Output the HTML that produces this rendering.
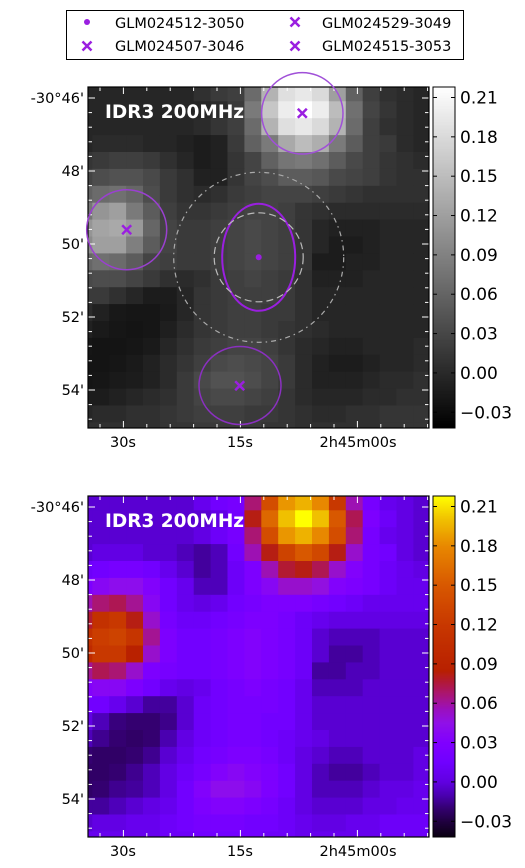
<!DOCTYPE html>
<html><head><meta charset="utf-8"><style>
html,body{margin:0;padding:0;background:#fff;}
svg{display:block;font-family:"DejaVu Sans","Liberation Sans",sans-serif;}
</style></head><body>
<svg id="fig" width="525" height="868" viewBox="0 0 525 868" xmlns="http://www.w3.org/2000/svg">
<g>
<rect x="66.5" y="10.5" width="397" height="49" fill="#fff" stroke="#000" stroke-width="1"/>
<circle cx="87" cy="22" r="3" fill="#9a1fe0"/>
<text x="115" y="28" font-size="14.5">GLM024512-3050</text>
<path d="M82.5,41.5L91.5,50.5M82.5,50.5L91.5,41.5" stroke="#9a1fe0" stroke-width="2.5"/>
<text x="115" y="51" font-size="14.5">GLM024507-3046</text>
<path d="M290.5,17.5L299.5,26.5M290.5,26.5L299.5,17.5" stroke="#9a1fe0" stroke-width="2.5"/>
<text x="322" y="28" font-size="14.5">GLM024529-3049</text>
<path d="M290.5,41.5L299.5,50.5M290.5,50.5L299.5,41.5" stroke="#9a1fe0" stroke-width="2.5"/>
<text x="322" y="51" font-size="14.5">GLM024515-3053</text>
</g>
</svg>
<script>
const gridRows = [
[-0.003,-0.003,-0.003,-0.003,-0.003,-0.003,-0.003,0.007,0.017,0.022,0.067,0.14,0.185,0.195,0.18,0.12,0.057,0.022,0.007,0.002,-0.003],
[-0.003,-0.003,-0.003,-0.003,-0.003,-0.003,-0.003,-0.003,0.002,0.017,0.082,0.16,0.20,0.218,0.20,0.15,0.072,0.027,0.012,0.002,-0.003],
[-0.003,-0.003,-0.003,-0.003,-0.003,-0.003,-0.003,0.002,0.012,0.022,0.067,0.14,0.185,0.195,0.18,0.14,0.067,0.022,0.007,0.002,-0.003],
[-0.003,0.002,0.002,0.002,-0.003,-0.003,-0.008,-0.013,-0.008,0.017,0.057,0.082,0.13,0.15,0.135,0.082,0.052,0.022,0.017,0.002,-0.003],
[0.012,0.017,0.022,0.022,0.017,0.007,-0.003,-0.013,-0.008,0.012,0.027,0.057,0.077,0.082,0.072,0.052,0.032,0.022,0.012,0.007,0.002],
[0.027,0.037,0.042,0.042,0.032,0.017,0.007,-0.008,-0.008,0.012,0.027,0.037,0.052,0.052,0.047,0.032,0.027,0.022,0.012,0.007,0.007],
[0.057,0.067,0.072,0.062,0.037,0.017,0.007,0.002,0.007,0.017,0.022,0.027,0.027,0.027,0.022,0.017,0.012,0.007,0.007,0.007,0.007],
[0.077,0.11,0.12,0.082,0.052,0.022,0.012,0.012,0.017,0.022,0.027,0.027,0.022,0.012,0.007,0.002,0.002,0.002,0.002,0.002,0.002],
[0.11,0.125,0.13,0.115,0.062,0.027,0.017,0.017,0.022,0.027,0.032,0.027,0.022,0.012,-0.003,-0.008,-0.008,-0.008,-0.003,-0.003,-0.003],
[0.10,0.12,0.12,0.087,0.052,0.027,0.017,0.017,0.022,0.027,0.032,0.027,0.022,0.012,-0.003,-0.013,-0.013,-0.008,-0.003,-0.003,-0.003],
[0.062,0.072,0.067,0.052,0.027,0.022,0.017,0.017,0.022,0.027,0.032,0.027,0.022,0.012,-0.013,-0.013,-0.008,-0.008,-0.003,-0.003,-0.003],
[0.032,0.037,0.037,0.027,0.017,0.007,0.002,0.007,0.017,0.022,0.027,0.022,0.017,0.007,-0.008,-0.008,-0.008,-0.003,-0.003,-0.003,-0.003],
[0.017,0.017,0.007,-0.003,-0.013,-0.013,-0.003,0.012,0.017,0.022,0.022,0.022,0.017,0.007,-0.003,-0.003,-0.003,-0.003,-0.003,-0.003,-0.003],
[0.002,-0.008,-0.018,-0.02,-0.02,-0.016,-0.003,0.012,0.017,0.022,0.022,0.017,0.017,0.007,-0.003,-0.003,-0.003,-0.003,-0.003,-0.003,-0.003],
[-0.008,-0.015,-0.02,-0.022,-0.02,-0.01,0.002,0.012,0.017,0.022,0.022,0.017,0.012,0.007,0.002,-0.003,-0.003,-0.003,-0.003,-0.003,-0.003],
[-0.02,-0.022,-0.022,-0.02,-0.015,-0.003,0.007,0.017,0.022,0.027,0.027,0.022,0.012,0.002,-0.003,-0.008,-0.008,-0.003,-0.003,-0.003,0.002],
[-0.022,-0.022,-0.02,-0.015,-0.008,0.002,0.012,0.022,0.032,0.037,0.032,0.027,0.017,0.002,-0.008,-0.013,-0.013,-0.008,-0.003,-0.003,0.002],
[-0.022,-0.02,-0.015,-0.013,-0.008,0.002,0.017,0.032,0.042,0.042,0.037,0.027,0.017,0.002,-0.008,-0.008,-0.008,-0.003,0.002,0.002,0.007],
[-0.013,-0.013,-0.008,-0.003,0.002,0.007,0.017,0.027,0.032,0.032,0.027,0.022,0.012,0.002,-0.003,-0.003,-0.003,0.002,0.002,0.007,0.007],
[-0.003,0.002,0.002,0.007,0.007,0.012,0.017,0.022,0.022,0.022,0.017,0.017,0.012,0.007,0.002,0.002,0.007,0.007,0.012,0.012,0.012],
[0.007,0.007,0.007,0.007,0.007,0.012,0.012,0.017,0.017,0.017,0.017,0.012,0.012,0.007,0.007,0.007,0.007,0.007,0.012,0.012,0.012]
];
const cbTicks = [0.21,0.18,0.15,0.12,0.09,0.06,0.03,0.00,-0.03];
const cbTickLabels = ["0.21","0.18","0.15","0.12","0.09","0.06","0.03","0.00","\u22120.03"];
const decTicks = ["-30°46'","48'","50'","52'","54'"];
const raTicks = ["30s","15s","2h45m00s"];
const vmin = -0.042, vmax = 0.218;

const NS="http://www.w3.org/2000/svg";
const svg=document.getElementById('fig');
function mk(tag,attrs,parent){const e=document.createElementNS(NS,tag);for(const k in attrs)e.setAttribute(k,attrs[k]);(parent||svg).appendChild(e);return e;}
function hex(c){return [parseInt(c.slice(1,3),16),parseInt(c.slice(3,5),16),parseInt(c.slice(5,7),16)];}
const cmapStops=[[-0.042,"#0a0010"],[-0.03,"#200040"],[-0.02,"#340070"],[-0.01,"#4a00b0"],[0.0,"#6000e0"],[0.015,"#7000ff"],[0.03,"#8000ff"],[0.045,"#9010e8"],[0.055,"#9a10c0"],[0.065,"#a81580"],[0.075,"#b01840"],[0.085,"#b82000"],[0.12,"#c83800"],[0.15,"#d85800"],[0.18,"#e88800"],[0.20,"#f0c000"],[0.218,"#ffff00"]];
function hotColor(v){
  if(v<=cmapStops[0][0])return cmapStops[0][1];
  for(let i=1;i<cmapStops.length;i++){if(v<=cmapStops[i][0]){const a=cmapStops[i-1],b=cmapStops[i];const t=(v-a[0])/(b[0]-a[0]);const ca=hex(a[1]),cb=hex(b[1]);return 'rgb('+ca.map((x,j)=>Math.round(x+(cb[j]-x)*t)).join(',')+')';}}
  return cmapStops[cmapStops.length-1][1];
}
function grayColor(v){let g=Math.round(Math.max(0,Math.min(1,(v-vmin)/(vmax-vmin)))*255);return 'rgb('+g+','+g+','+g+')';}

function panel(oy,colorFn,name){
  const L=88,R=429,T=oy,B=oy+341;
  const g=mk('g',{});
  
  
  const cid='clip'+oy;
  const cp=mk('clipPath',{id:cid},g);mk('rect',{x:L,y:T,width:R-L,height:B-T},cp);
  const cells=mk('g',{'clip-path':'url(#'+cid+')'},g);
  
  
  const cw=16.9, x0=75.4, y0=T-2.6;
  const xs=c=>x0+c*cw, ys=r=>y0+r*cw;
  gridRows.forEach((row,r)=>row.forEach((v,c)=>{
    const rc=mk('rect',{x:xs(c).toFixed(2),y:ys(r).toFixed(2),width:(cw+0.4).toFixed(2),height:(cw+0.4).toFixed(2),fill:colorFn(v)},cells);
    
    
  }));
  const tk=mk('g',{stroke:'#fff','stroke-width':1},g);
  for(let x=100;x<R;x+=23.4){const maj=[123.4,240.4,357.4].some(m=>Math.abs(m-x)<3);const len=maj?7:4;
    mk('line',{x1:x,y1:B,x2:x,y2:B-len},tk);mk('line',{x1:x,y1:T,x2:x,y2:T+len},tk);}
  for(let k=-1;k<23;k++){const y=T+11+k*14.6;if(y<=T||y>=B)continue;const maj=(k%5===0);const len=maj?7:4;
    mk('line',{x1:L,y1:y,x2:L+len,y2:y},tk);mk('line',{x1:R,y1:y,x2:R-len,y2:y},tk);}
  mk('rect',{x:L,y:T,width:R-L,height:B-T,fill:'none',stroke:'#000','stroke-width':1.2},g);
  const t=mk('text',{x:105,y:T+31,'font-size':18.5,'font-weight':'bold',fill:'#fff'},g);t.textContent='IDR3 200MHz';
  
  decTicks.forEach((s,i)=>{const e=mk('text',{x:84,y:T+16+i*73,'font-size':14.5,'text-anchor':'end'},g);e.textContent=s;
    });
  raTicks.forEach((s,i)=>{const e=mk('text',{x:[123,240,358][i],y:B+19,'font-size':14.5,'text-anchor':'middle'},g);e.textContent=s;
    });
  const cb=mk('g',{},g);
  
  const cx=433,cwid=22;const vy=v=>B-(v-vmin)/(vmax-vmin)*(B-T);
  for(let i=0;i<341;i++){const v=vmin+(i+0.5)/341*(vmax-vmin);mk('rect',{x:cx,y:B-i-1,width:cwid,height:1.3,fill:colorFn(v)},cb);}
  mk('rect',{x:cx,y:T,width:cwid,height:B-T,fill:'none',stroke:'#000','stroke-width':1},cb);
  cbTicks.forEach((v,i)=>{const y=vy(v);
    mk('line',{x1:cx,y1:y,x2:cx+4,y2:y,stroke:'#000'},cb);mk('line',{x1:cx+cwid,y1:y,x2:cx+cwid-4,y2:y,stroke:'#000'},cb);
    const e=mk('text',{x:460,y:y+6,'font-size':17},cb);e.textContent=cbTickLabels[i];
    });
  return {g,T};
}
const p1=panel(87,grayColor,'panel-grayscale');
panel(496,hotColor,'panel-color');

const ov=mk('g',{fill:'none'},p1.g);

const c1=mk('circle',{cx:302.3,cy:113.3,r:40.7,stroke:'#a050d8','stroke-width':1.5},ov);

const c2=mk('circle',{cx:126.7,cy:229.7,r:40,stroke:'#9a40d0','stroke-width':1.5},ov);

const c3=mk('ellipse',{cx:240,cy:385.5,rx:41,ry:39,stroke:'#8a30c0','stroke-width':1.5},ov);

const c4=mk('ellipse',{cx:258.7,cy:257.3,rx:36.5,ry:53.5,stroke:'#9a1fe0','stroke-width':2},ov);

const c5=mk('circle',{cx:258.7,cy:257.3,r:44.5,stroke:'#bbb','stroke-width':1.2,'stroke-dasharray':'7,4'},ov);

const c6=mk('circle',{cx:258.7,cy:257.3,r:85,stroke:'#aaa','stroke-width':1.2,'stroke-dasharray':'5,4,1.5,4'},ov);

const dot=mk('circle',{cx:258.7,cy:257.3,r:3,fill:'#9a1fe0'},p1.g);

[[302.3,113.3,'marker-glm024529'],[126.7,229.7,'marker-glm024507'],[239.7,385.7,'marker-glm024515']].forEach(m=>{
  const e=mk('path',{d:`M${m[0]-4.5},${m[1]-4.5}L${m[0]+4.5},${m[1]+4.5}M${m[0]-4.5},${m[1]+4.5}L${m[0]+4.5},${m[1]-4.5}`,stroke:'#9a1fe0','stroke-width':2.5,fill:'none'},p1.g);
  
  
});
</script>
</body></html>
